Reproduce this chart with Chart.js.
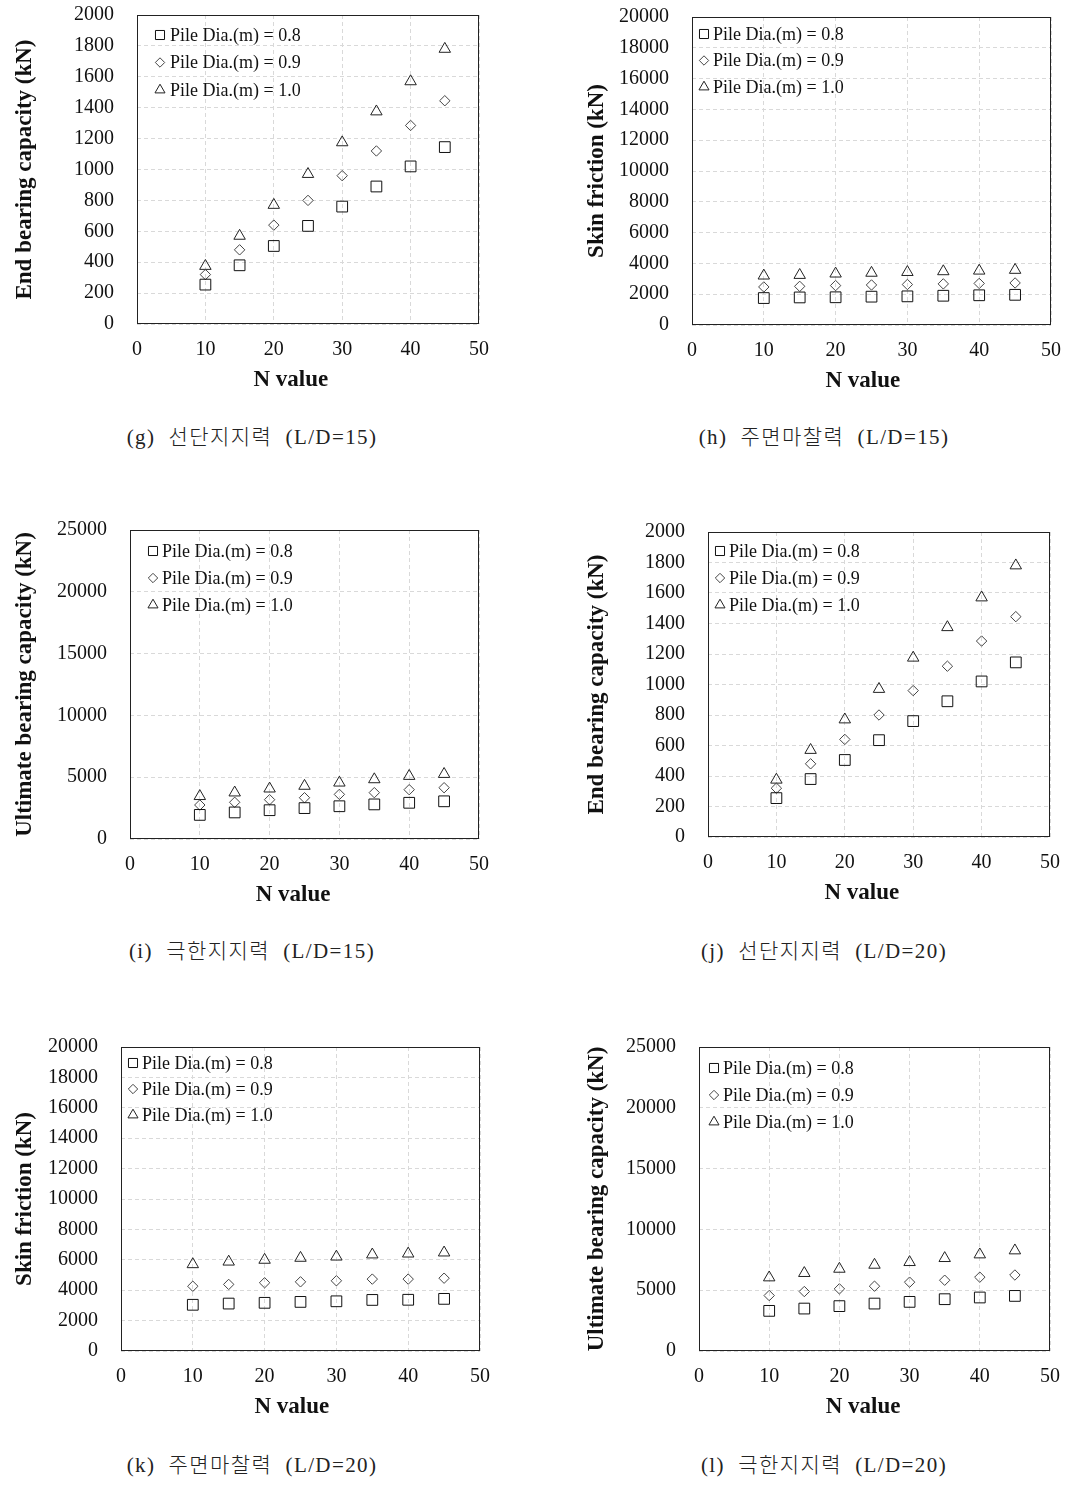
<!DOCTYPE html>
<html>
<head>
<meta charset="utf-8">
<script src="https://cdn.jsdelivr.net/npm/chart.js@4"></script>
<style>
  body { margin: 0; background: #fff; }
  #page { position: relative; width: 1086px; height: 1502px; background: #fff; }
  canvas { position: absolute; }
  .cap { position: absolute; width: 360px; text-align: center; white-space: pre;
         font-family: "Liberation Serif", "Noto Sans CJK KR", serif; font-size: 21px; font-weight: 300;
         color: #222; letter-spacing: 1.4px; line-height: 24px; }
</style>
</head>
<body>
<div id="page">
  <canvas id="chartG" width="500" height="399" style="left:0px;top:0px"></canvas>
  <canvas id="chartH" width="526" height="398" style="left:560px;top:2px"></canvas>
  <canvas id="chartI" width="500" height="399" style="left:0px;top:515px"></canvas>
  <canvas id="chartJ" width="526" height="395" style="left:560px;top:517px"></canvas>
  <canvas id="chartK" width="500" height="394" style="left:0px;top:1032px"></canvas>
  <canvas id="chartL" width="526" height="394" style="left:560px;top:1032px"></canvas>
  <div class="cap" style="left:72px;top:425px">(g)  선단지지력  (L/D=15)</div>
  <div class="cap" style="left:644px;top:425px">(h)  주면마찰력  (L/D=15)</div>
  <div class="cap" style="left:72px;top:939px">(i)  극한지지력  (L/D=15)</div>
  <div class="cap" style="left:644px;top:939px">(j)  선단지지력  (L/D=20)</div>
  <div class="cap" style="left:72px;top:1453px">(k)  주면마찰력  (L/D=20)</div>
  <div class="cap" style="left:644px;top:1453px">(l)  극한지지력  (L/D=20)</div>
</div>
<script>
// N values on the x axis
let nValues = [10, 15, 20, 25, 30, 35, 40, 45];
let pileLabels = ['Pile Dia.(m) = 0.8', 'Pile Dia.(m) = 0.9', 'Pile Dia.(m) = 1.0'];
let xTicks = [0, 10, 20, 30, 40, 50];

// (g) end bearing, L/D=15
let endBearing15_d08 = [255, 380, 505, 635, 760, 890, 1020, 1145];
let endBearing15_d09 = [320, 480, 640, 800, 960, 1120, 1285, 1445];
let endBearing15_d10 = [375, 570, 770, 970, 1175, 1375, 1570, 1780];

// (h) skin friction, L/D=15
let skin15_d08 = [1750, 1790, 1800, 1840, 1860, 1900, 1930, 1960];
let skin15_d09 = [2470, 2510, 2560, 2600, 2630, 2670, 2700, 2730];
let skin15_d10 = [3200, 3240, 3330, 3380, 3430, 3480, 3520, 3570];

// (i) ultimate, L/D=15
let ult15_d08 = [1950, 2150, 2330, 2500, 2650, 2800, 2930, 3050];
let ult15_d09 = [2750, 2970, 3180, 3340, 3610, 3750, 3990, 4150];
let ult15_d10 = [3460, 3750, 4070, 4290, 4550, 4820, 5090, 5250];

// (j) end bearing, L/D=20
let endBearing20_d08 = [255, 380, 505, 635, 760, 890, 1020, 1145];
let endBearing20_d09 = [320, 480, 640, 800, 960, 1120, 1285, 1445];
let endBearing20_d10 = [375, 570, 770, 970, 1175, 1375, 1570, 1780];

// (k) skin friction, L/D=20
let skin20_d08 = [3040, 3120, 3170, 3230, 3270, 3360, 3370, 3430];
let skin20_d09 = [4260, 4380, 4490, 4550, 4620, 4730, 4730, 4790];
let skin20_d10 = [5700, 5870, 5990, 6120, 6200, 6340, 6400, 6470];

// (l) ultimate, L/D=20
let ult20_d08 = [3300, 3490, 3690, 3900, 4040, 4260, 4400, 4530];
let ult20_d09 = [4560, 4890, 5110, 5330, 5660, 5820, 6070, 6250];
let ult20_d10 = [6040, 6400, 6750, 7080, 7300, 7630, 7930, 8260];

let serif = '"Liberation Serif", "Times New Roman", serif';

// box round the plot area
let plotBorder = {
    id: 'plotBorder',
    beforeDatasetsDraw(chart) {
        let a = chart.chartArea;
        let ctx = chart.ctx;
        ctx.save();
        ctx.strokeStyle = '#222';
        ctx.lineWidth = 1;
        ctx.strokeRect(Math.round(a.left) + 0.5, Math.round(a.top) + 0.5, Math.round(a.right - a.left) - 1, Math.round(a.bottom - a.top) - 1);
        ctx.restore();
    }
};

// legend drawn inside the plot area, top-left
let innerLegend = {
    id: 'innerLegend',
    afterDatasetsDraw(chart, args, opts) {
        let a = chart.chartArea;
        let ctx = chart.ctx;
        ctx.save();
        ctx.font = '18px ' + serif;
        ctx.textBaseline = 'middle';
        ctx.textAlign = 'left';
        chart.data.datasets.forEach((ds, i) => {
            let y = a.top + opts.dy + i * opts.step;
            let x = a.left + opts.dx;
            ctx.strokeStyle = ds.pointBorderColor;
            ctx.fillStyle = 'rgba(0,0,0,0)';
            Chart.helpers.drawPoint(ctx, {pointStyle: ds.pointStyle, radius: ds.legendRadius, rotation: 0, borderWidth: 1}, x, y);
            ctx.fillStyle = '#111';
            ctx.fillText(ds.label, x + opts.textGap, y + 1);
        });
        ctx.restore();
    }
};

function toPoints(values) {
    return nValues.map((n, i) => ({x: n, y: values[i]}));
}

function makeChart(id, series, yMax, yStep, yTitle, yAxisW, yTitlePad, rightPad, xTitle, legendPos) {
    let styles = [
        {pointStyle: 'rect', radius: 7.6, legend: 6.4, color: '#111'},
        {pointStyle: 'rectRot', radius: 5.2, legend: 4.7, color: '#444'},
        {pointStyle: 'triangle', radius: 6.6, legend: 5.8, color: '#222'}
    ];
    let datasets = series.map((values, i) => ({
        label: pileLabels[i],
        data: toPoints(values),
        pointStyle: styles[i].pointStyle,
        pointRadius: styles[i].radius,
        pointHoverRadius: styles[i].radius,
        legendRadius: styles[i].legend,
        pointBorderWidth: 1,
        pointBorderColor: styles[i].color,
        pointBackgroundColor: 'rgba(0,0,0,0)',
        borderColor: styles[i].color,
        backgroundColor: 'rgba(0,0,0,0)'
    }));

    // invisible tick marks give the label gap without growing the scale padding
    let hiddenTicks = len => ({ color: '#d9d9d9', drawTicks: true, tickLength: len, tickColor: 'rgba(0,0,0,0)' });

    return new Chart(document.getElementById(id), {
        type: 'scatter',
        data: { datasets: datasets },
        plugins: [plotBorder, innerLegend],
        options: {
            responsive: false,
            animation: false,
            layout: { padding: { top: 15, right: rightPad, bottom: 0, left: 0 } },
            plugins: {
                tooltip: { enabled: false },
                legend: { display: false },
                innerLegend: legendPos
            },
            scales: {
                x: {
                    type: 'linear',
                    min: 0, max: 50,
                    afterBuildTicks: scale => { scale.ticks = xTicks.map(v => ({value: v})); },
                    afterFit: scale => { scale.height = 75; },
                    grid: hiddenTicks(12),
                    border: { display: false, dash: [4, 3] },
                    ticks: { color: '#111', padding: 2, font: { family: serif, size: 20 }, callback: v => String(v) },
                    title: {
                        display: true, text: xTitle, color: '#111',
                        font: { family: serif, size: 23, weight: 'bold' },
                        padding: { top: 0, bottom: 5 }
                    }
                },
                y: {
                    type: 'linear',
                    min: 0, max: yMax,
                    ticks: { stepSize: yStep, color: '#111', padding: 2, font: { family: serif, size: 20 }, callback: v => String(v) },
                    afterFit: scale => { scale.width = yAxisW; },
                    grid: hiddenTicks(21),
                    border: { display: false, dash: [4, 3] },
                    title: {
                        display: true, text: yTitle, color: '#111',
                        font: { family: serif, size: 23, weight: 'bold' },
                        padding: { top: yTitlePad, bottom: 0 }
                    }
                }
            }
        }
    });
}

// trailing spaces pull the centred axis title left, as in the original layout
makeChart('chartG', [endBearing15_d08, endBearing15_d09, endBearing15_d10], 2000, 200, 'End bearing capacity (kN)', 137, 11, 21,
    'N value      ', {dx: 23, dy: 20, step: 27.5, textGap: 10});
makeChart('chartH', [skin15_d08, skin15_d09, skin15_d10], 20000, 2000, 'Skin friction (kN)', 132, 23, 35,
    'N value   ', {dx: 12, dy: 17, step: 26.5, textGap: 9});
makeChart('chartI', [ult15_d08, ult15_d09, ult15_d10], 25000, 5000, 'Ultimate bearing capacity (kN)', 130, 11, 21,
    'N value    ', {dx: 23, dy: 21, step: 27, textGap: 9});
makeChart('chartJ', [endBearing20_d08, endBearing20_d09, endBearing20_d10], 2000, 200, 'End bearing capacity (kN)', 148, 23, 36,
    'N value      ', {dx: 12, dy: 19, step: 27, textGap: 9});
makeChart('chartK', [skin20_d08, skin20_d09, skin20_d10], 20000, 2000, 'Skin friction (kN)', 121, 11, 20,
    'N value   ', {dx: 12, dy: 16, step: 26, textGap: 9});
makeChart('chartL', [ult20_d08, ult20_d09, ult20_d10], 25000, 5000, 'Ultimate bearing capacity (kN)', 139, 23, 36,
    'N value    ', {dx: 15, dy: 21, step: 27, textGap: 9});
</script>
</body>
</html>
